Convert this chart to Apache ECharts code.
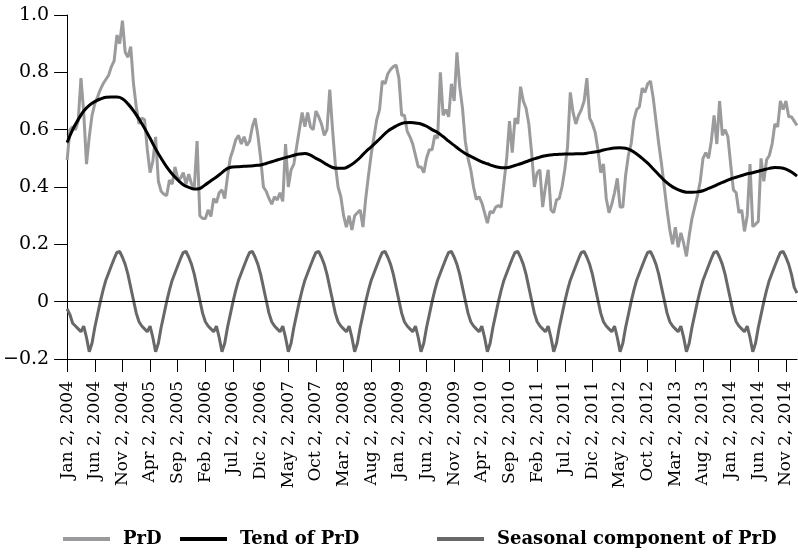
<!DOCTYPE html>
<html><head><meta charset="utf-8">
<script src="https://cdn.jsdelivr.net/npm/echarts@6/dist/echarts.min.js"></script>
<style>html,body{margin:0;padding:0;background:#fff}#c{width:798px;height:552px}</style>
</head><body><div id="c"></div>
<script>
const monthNames = ['Jan','Feb','Mar','Apr','May','Jun','Jul','Aug','Sep','Oct','Nov','Dic'];
const tickLabels = ['Jan 2, 2004','Jun 2, 2004','Nov 2, 2004','Apr 2, 2005','Sep 2, 2005','Feb 2, 2006','Jul 2, 2006','Dic 2, 2006','May 2, 2007','Oct 2, 2007','Mar 2, 2008','Aug 2, 2008','Jan 2, 2009','Jun 2, 2009','Nov 2, 2009','Apr 2, 2010','Sep 2, 2010','Feb 2, 2011','Jul 2, 2011','Dic 2, 2011','May 2, 2012','Oct 2, 2012','Mar 2, 2013','Aug 2, 2013','Jan 2, 2014','Jun 2, 2014','Nov 2, 2014'];
const yTickLabels = ['\u22120.2','0','0.2','0.4','0.6','0.8','1.0'];
const seriesNames = ['PrD','Tend of PrD','Seasonal component of PrD'];

// PrD, semi-monthly (2nd and 16th of each month), Jan 2004 - Jan 2015
const prd = [
0.494,0.60,0.61,0.60,0.63,0.78,0.66,0.48,0.575,0.65,0.69,0.714,0.74,0.76,0.775,0.79,0.82,0.84,0.93,0.90,0.98,0.87,0.853,0.89,
0.76,0.68,0.62,0.64,0.635,0.53,0.45,0.49,0.575,0.42,0.385,0.375,0.37,0.424,0.41,0.47,0.43,0.43,0.45,0.41,0.445,0.41,0.40,0.56,
0.30,0.29,0.29,0.32,0.297,0.36,0.345,0.38,0.39,0.36,0.436,0.50,0.53,0.565,0.58,0.55,0.575,0.545,0.56,0.61,0.64,0.58,0.50,0.40,
0.385,0.36,0.34,0.366,0.355,0.38,0.35,0.55,0.40,0.46,0.48,0.54,0.60,0.66,0.61,0.66,0.61,0.60,0.665,0.645,0.62,0.58,0.60,0.74,
0.60,0.48,0.40,0.366,0.30,0.26,0.30,0.25,0.30,0.31,0.32,0.26,0.36,0.44,0.515,0.575,0.635,0.67,0.77,0.76,0.795,0.81,0.82,0.825,
0.78,0.65,0.65,0.595,0.575,0.55,0.51,0.47,0.47,0.45,0.50,0.53,0.53,0.58,0.57,0.80,0.65,0.67,0.645,0.76,0.70,0.87,0.75,0.675,
0.56,0.50,0.46,0.40,0.357,0.366,0.345,0.31,0.274,0.315,0.31,0.33,0.335,0.33,0.415,0.50,0.63,0.52,0.64,0.62,0.75,0.70,0.675,0.62,
0.52,0.40,0.45,0.46,0.33,0.40,0.46,0.32,0.31,0.355,0.36,0.40,0.46,0.54,0.73,0.66,0.62,0.65,0.67,0.70,0.78,0.64,0.62,0.59,
0.53,0.45,0.48,0.36,0.31,0.34,0.38,0.43,0.33,0.33,0.44,0.51,0.55,0.633,0.67,0.68,0.745,0.73,0.76,0.77,0.71,0.63,0.55,0.48,
0.40,0.32,0.25,0.20,0.26,0.19,0.24,0.204,0.158,0.23,0.29,0.33,0.37,0.42,0.50,0.52,0.50,0.56,0.65,0.55,0.70,0.58,0.60,0.575,
0.48,0.39,0.38,0.31,0.32,0.245,0.30,0.48,0.262,0.27,0.28,0.50,0.42,0.495,0.51,0.55,0.62,0.61,0.70,0.67,0.70,0.645,0.645,0.63,
0.615
];

// Trend of PrD, monthly (2nd of each month), Jan 2004 - Jan 2015
const trendMonthly = [
0.555,0.60,0.635,0.665,0.685,0.698,0.707,0.713,0.714,0.714,0.708,0.69,
0.666,0.637,0.605,0.57,0.533,0.50,0.47,0.445,0.425,0.408,0.399,0.393,
0.395,0.408,0.422,0.435,0.45,0.465,0.47,0.471,0.472,0.473,0.475,0.477,
0.482,0.488,0.494,0.50,0.505,0.511,0.515,0.517,0.511,0.50,0.49,0.478,
0.468,0.465,0.465,0.473,0.486,0.503,0.523,0.54,0.558,0.577,0.595,0.607,
0.618,0.624,0.625,0.623,0.62,0.612,0.60,0.59,0.576,0.56,0.545,0.53,
0.517,0.507,0.497,0.488,0.481,0.474,0.469,0.467,0.469,0.475,0.481,0.488,
0.495,0.501,0.507,0.511,0.513,0.514,0.515,0.515,0.516,0.516,0.518,0.521,
0.524,0.529,0.533,0.536,0.537,0.535,0.528,0.515,0.50,0.483,0.463,0.443,
0.423,0.407,0.395,0.387,0.382,0.382,0.383,0.387,0.395,0.403,0.412,0.42,
0.428,0.434,0.44,0.446,0.45,0.455,0.46,0.465,0.468,0.467,0.462,0.452,
0.438
];

// Seasonal component of PrD, semi-monthly
const seasonal = [
-0.025,-0.045,-0.075,-0.085,-0.095,-0.105,-0.085,-0.125,-0.175,-0.145,-0.09,-0.045,0.0,0.04,0.075,0.1,0.125,0.15,0.172,0.175,0.155,0.13,0.095,0.05,
0.005,-0.04,-0.07,-0.085,-0.095,-0.105,-0.085,-0.125,-0.175,-0.145,-0.09,-0.045,0.0,0.04,0.075,0.1,0.125,0.15,0.172,0.175,0.155,0.13,0.095,0.05,
0.005,-0.04,-0.07,-0.085,-0.095,-0.105,-0.085,-0.125,-0.175,-0.145,-0.09,-0.045,0.0,0.04,0.075,0.1,0.125,0.15,0.172,0.175,0.155,0.13,0.095,0.05,
0.005,-0.04,-0.07,-0.085,-0.095,-0.105,-0.085,-0.125,-0.175,-0.145,-0.09,-0.045,0.0,0.04,0.075,0.1,0.125,0.15,0.172,0.175,0.155,0.13,0.095,0.05,
0.005,-0.04,-0.07,-0.085,-0.095,-0.105,-0.085,-0.125,-0.175,-0.145,-0.09,-0.045,0.0,0.04,0.075,0.1,0.125,0.15,0.172,0.175,0.155,0.13,0.095,0.05,
0.005,-0.04,-0.07,-0.085,-0.095,-0.105,-0.085,-0.125,-0.175,-0.145,-0.09,-0.045,0.0,0.04,0.075,0.1,0.125,0.15,0.172,0.175,0.155,0.13,0.095,0.05,
0.005,-0.04,-0.07,-0.085,-0.095,-0.105,-0.085,-0.125,-0.175,-0.145,-0.09,-0.045,0.0,0.04,0.075,0.1,0.125,0.15,0.172,0.175,0.155,0.13,0.095,0.05,
0.005,-0.04,-0.07,-0.085,-0.095,-0.105,-0.085,-0.125,-0.175,-0.145,-0.09,-0.045,0.0,0.04,0.075,0.1,0.125,0.15,0.172,0.175,0.155,0.13,0.095,0.05,
0.005,-0.04,-0.07,-0.085,-0.095,-0.105,-0.085,-0.125,-0.175,-0.145,-0.09,-0.045,0.0,0.04,0.075,0.1,0.125,0.15,0.172,0.175,0.155,0.13,0.095,0.05,
0.005,-0.04,-0.07,-0.085,-0.095,-0.105,-0.085,-0.125,-0.175,-0.145,-0.09,-0.045,0.0,0.04,0.075,0.1,0.125,0.15,0.172,0.175,0.155,0.13,0.095,0.05,
0.005,-0.04,-0.07,-0.085,-0.095,-0.105,-0.085,-0.125,-0.175,-0.145,-0.09,-0.045,0.0,0.04,0.075,0.1,0.125,0.15,0.172,0.175,0.155,0.13,0.095,0.05,
0.03
];

const categories = prd.map((_, i) => {
  const m = Math.floor(i / 2);
  return monthNames[m % 12] + ' ' + (i % 2 ? 16 : 2) + ', ' + (2004 + Math.floor(m / 12));
});
const trend = categories.map((_, i) => (i % 2 === 0 ? trendMonthly[i / 2] : null));

const FONT = 'DejaVu Serif';
const legendText = { fontFamily: FONT, fontWeight: 'bold', fontSize: 18, color: '#000', padding: [0, 0, 0, 8] };
const legendBase = { top: 525, icon: 'rect', itemWidth: 47, itemHeight: 4, textStyle: legendText, selectedMode: false };

const chart = echarts.init(document.getElementById('c'), null, { renderer: 'canvas' });
chart.setOption({
  animation: false,
  backgroundColor: '#fff',
  grid: { left: 66, right: 1, top: 15, height: 344, containLabel: false },
  legend: [
    Object.assign({ data: [seriesNames[0]], left: 58 }, legendBase),
    Object.assign({ data: [seriesNames[1]], left: 175 }, legendBase),
    Object.assign({ data: [seriesNames[2]], left: 432 }, legendBase)
  ],
  xAxis: {
    type: 'category',
    data: categories,
    boundaryGap: false,
    axisLine: { show: true, onZero: false, lineStyle: { color: '#000', width: 1 } },
    axisTick: { show: true, interval: (i) => i % 10 === 0, length: 13, lineStyle: { color: '#000', width: 1 } },
    axisLabel: {
      interval: (i) => i % 10 === 0,
      rotate: 90, margin: 22,
      fontFamily: FONT, fontSize: 17, color: '#000',
      formatter: (v, i) => tickLabels[Math.round(i / 10)]
    },
    splitLine: { show: false }
  },
  yAxis: {
    type: 'value', min: -0.2, max: 1.0, interval: 0.2,
    axisLine: { show: true, lineStyle: { color: '#000', width: 1 } },
    axisTick: { show: true, length: 13, lineStyle: { color: '#000', width: 1 } },
    axisLabel: {
      margin: 18, fontFamily: FONT, fontSize: 19, color: '#000',
      formatter: (v) => yTickLabels[Math.round((v + 0.2) / 0.2)]
    },
    splitLine: { show: false }
  },
  series: [
    {
      name: seriesNames[0], type: 'line', data: prd, showSymbol: false, symbol: 'none', z: 2,
      lineStyle: { color: '#9b9b9e', width: 3 }, itemStyle: { color: '#9b9b9e' }
    },
    {
      name: seriesNames[1], type: 'line', data: trend, connectNulls: true, smooth: 0.4, showSymbol: false, symbol: 'none', z: 4,
      lineStyle: { color: '#000', width: 3 }, itemStyle: { color: '#000' }
    },
    {
      name: seriesNames[2], type: 'line', data: seasonal, showSymbol: false, symbol: 'none', z: 3,
      lineStyle: { color: '#686868', width: 3 }, itemStyle: { color: '#686868' },
      markLine: {
        silent: true, symbol: ['none', 'none'], label: { show: false },
        lineStyle: { color: '#000', width: 1, type: 'solid' },
        data: [{ yAxis: 0 }]
      }
    }
  ]
});
</script>
</body></html>
